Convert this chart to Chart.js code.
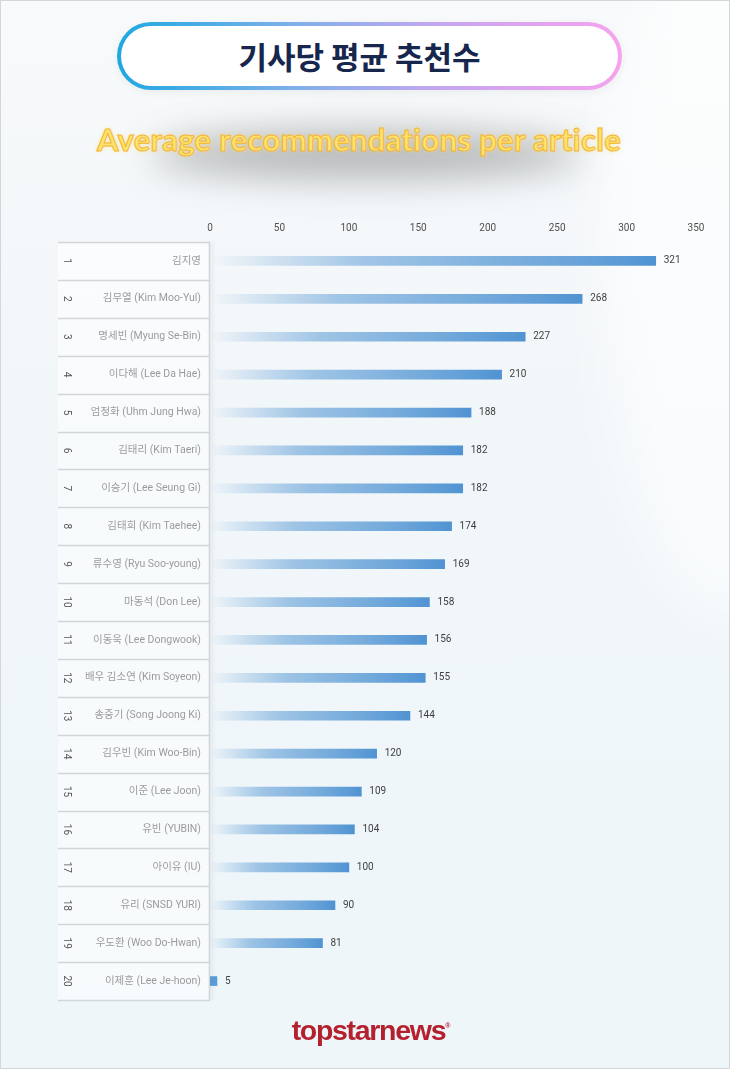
<!DOCTYPE html>
<html>
<head>
<meta charset="utf-8">
<script src="https://cdn.jsdelivr.net/npm/chart.js@4"></script>
<style>
  html, body { margin: 0; padding: 0; }
  #page {
    position: relative; width: 728px; height: 1067px; overflow: hidden;
    border: 1px solid #d4d6d8;
    background: linear-gradient(180deg, #f8fafb 0%, #f1f6f9 40%, #eef6fa 100%);
    font-family: "Noto Sans CJK KR", "Noto Sans", sans-serif;
  }
  #glow {
    position: absolute; left: 600px; top: -80px; width: 260px; height: 700px;
    border-radius: 50%; background: rgba(255,255,255,0.6); filter: blur(30px);
  }
  #titleBox {
    position: absolute; left: 116px; top: 21px; width: 497px; height: 60px;
    border: 4px solid transparent; border-radius: 34px;
    background: linear-gradient(#fff, #fff) padding-box,
                linear-gradient(90deg, #1ea8e0 0%, #7fb0ea 35%, #c7a6f0 65%, #f7a2ee 100%) border-box;
    box-shadow: 0 2px 10px rgba(0,0,0,0.06);
    display: flex; align-items: center; justify-content: center;
  }
  #titleBox span {
    font-size: 31px; font-weight: 700; color: #16264d; margin-right: 20px; margin-top: -2px;
  }
  #shadow {
    position: absolute; left: 150px; top: 130px; width: 430px; height: 48px;
    border-radius: 50%; background: rgba(60,60,60,0.35); filter: blur(18px);
  }
  #subtitle {
    position: absolute; left: 0; top: 119px; width: 716px; text-align: center;
    font-family: "Lato", "Open Sans", sans-serif; font-weight: 700; font-size: 31px;
    color: #ffe46c; -webkit-text-stroke: 1px #f2b43a; letter-spacing: 0.3px;
    text-shadow: 0 0 4px rgba(255,220,90,0.6);
  }
  #logo {
    position: absolute; left: 0; top: 1013px; width: 740px; text-align: center;
    font-family: "Liberation Sans", Arial, sans-serif; font-weight: 700; font-size: 28.5px;
    color: #b5202f; letter-spacing: -1.3px;
  }
  #logo sup { font-size: 7px; letter-spacing: 0; vertical-align: 12px; }
  #chartWrap { position: absolute; left: 0; top: 0; width: 730px; height: 1069px; }
</style>
</head>
<body>
<div id="page">
  <div id="glow"></div>
  <div id="titleBox"><span>기사당 평균 추천수</span></div>
  <div id="shadow"></div>
  <div id="subtitle">Average recommendations per article</div>
  <div id="chartWrap"><canvas id="chart"></canvas></div>
  <div id="logo">topstarnews<sup>®</sup></div>
</div>
<script>
const ranks = ['1','2','3','4','5','6','7','8','9','10','11','12','13','14','15','16','17','18','19','20'];
const names = [
  '김지영', '김무열 (Kim Moo-Yul)', '명세빈 (Myung Se-Bin)', '이다해 (Lee Da Hae)',
  '엄정화 (Uhm Jung Hwa)', '김태리 (Kim Taeri)', '이승기 (Lee Seung Gi)', '김태희 (Kim Taehee)',
  '류수영 (Ryu Soo-young)', '마동석 (Don Lee)', '이동욱 (Lee Dongwook)', '배우 김소연 (Kim Soyeon)',
  '송중기 (Song Joong Ki)', '김우빈 (Kim Woo-Bin)', '이준 (Lee Joon)', '유빈 (YUBIN)',
  '아이유 (IU)', '유리 (SNSD YURI)', '우도환 (Woo Do-Hwan)', '이제훈 (Lee Je-hoon)'
];
const values = [321, 268, 227, 210, 188, 182, 182, 174, 169, 158, 156, 155, 144, 120, 109, 104, 100, 90, 81, 5];
const xTicks = [0, 50, 100, 150, 200, 250, 300, 350];

const fontFam = "Roboto, 'Noto Sans CJK KR', sans-serif";

function barFill(c) {
  const chart = c.chart;
  if (!chart.chartArea || c.parsed == null) return '#5b9bd5';
  const x0 = chart.scales.x.getPixelForValue(0);
  const x1 = chart.scales.x.getPixelForValue(c.parsed.x);
  if (x1 - x0 < 12) return '#5b9bd5';
  const g = chart.ctx.createLinearGradient(x0, 0, x1, 0);
  g.addColorStop(0, 'rgba(91,155,213,0.0)');
  g.addColorStop(0.35, 'rgba(91,155,213,0.55)');
  g.addColorStop(0.75, 'rgba(91,155,213,0.85)');
  g.addColorStop(1, 'rgba(80,147,210,1)');
  return g;
}

// label panel, separators and rank numbers
const labelPanel = {
  id: 'labelPanel',
  beforeDatasetsDraw(chart) {
    const ctx = chart.ctx;
    const y = chart.scales.y;
    const left = 57, right = chart.chartArea.left;
    const top = chart.chartArea.top, bottom = chart.chartArea.bottom;
    const band = (bottom - top) / ranks.length;
    ctx.save();
    ctx.fillStyle = 'rgba(255,255,255,0.5)';
    ctx.fillRect(left, top, right - left, bottom - top);
    ctx.strokeStyle = '#d3d6d9';
    ctx.lineWidth = 1.5;
    for (let i = 0; i <= ranks.length; i++) {
      const py = Math.round(i < ranks.length ? y.getPixelForValue(i) - band / 2 : y.getPixelForValue(i - 1) + band / 2) + 0.5;
      ctx.beginPath();
      ctx.moveTo(left, py);
      ctx.lineTo(right, py);
      ctx.stroke();
    }
    ctx.shadowColor = 'rgba(0,0,0,0.12)';
    ctx.shadowBlur = 4;
    ctx.shadowOffsetX = 2;
    ctx.beginPath();
    ctx.moveTo(right - 0.5, top);
    ctx.lineTo(right - 0.5, bottom);
    ctx.stroke();
    ctx.restore();

    ctx.save();
    ctx.fillStyle = '#555';
    ctx.font = "10px " + fontFam;
    ctx.textAlign = 'center';
    ctx.textBaseline = 'middle';
    ranks.forEach((r, i) => {
      ctx.save();
      ctx.translate(65, y.getPixelForValue(i));
      ctx.rotate(Math.PI / 2);
      ctx.fillText(r, 0, 0);
      ctx.restore();
    });
    ctx.restore();
  },
  afterDatasetsDraw(chart) {
    const ctx = chart.ctx;
    const meta = chart.getDatasetMeta(0);
    ctx.save();
    ctx.fillStyle = '#404040';
    ctx.font = "10px " + fontFam;
    ctx.textAlign = 'left';
    ctx.textBaseline = 'middle';
    meta.data.forEach((bar, i) => {
      ctx.fillText(String(values[i]), bar.x + 8, bar.y);
    });
    ctx.restore();
  }
};

new Chart(document.getElementById('chart'), {
  type: 'bar',
  data: {
    labels: names,
    datasets: [{
      data: values,
      backgroundColor: barFill,
      borderWidth: 0,
      barThickness: 9
    }]
  },
  options: {
    indexAxis: 'y',
    responsive: true,
    maintainAspectRatio: false,
    animation: false,
    layout: { padding: { top: 219, bottom: 70, left: 0, right: 35 } },
    plugins: { legend: { display: false }, tooltip: { enabled: false } },
    scales: {
      x: {
        position: 'top',
        min: 0, max: 350,
        afterBuildTicks: (s) => { s.ticks = xTicks.map(v => ({ value: v })); },
        afterFit: (s) => { s.height = 22; },
        grid: { display: false },
        border: { display: false },
        ticks: { color: '#505050', font: { family: fontFam, size: 10 }, padding: 0 }
      },
      y: {
        afterFit: (s) => { s.width = 209; },
        grid: { display: false },
        border: { display: false },
        ticks: { color: '#333333', font: { family: fontFam, size: 10.5 }, padding: 1 }
      }
    }
  },
  plugins: [labelPanel]
});
</script>
</body>
</html>
